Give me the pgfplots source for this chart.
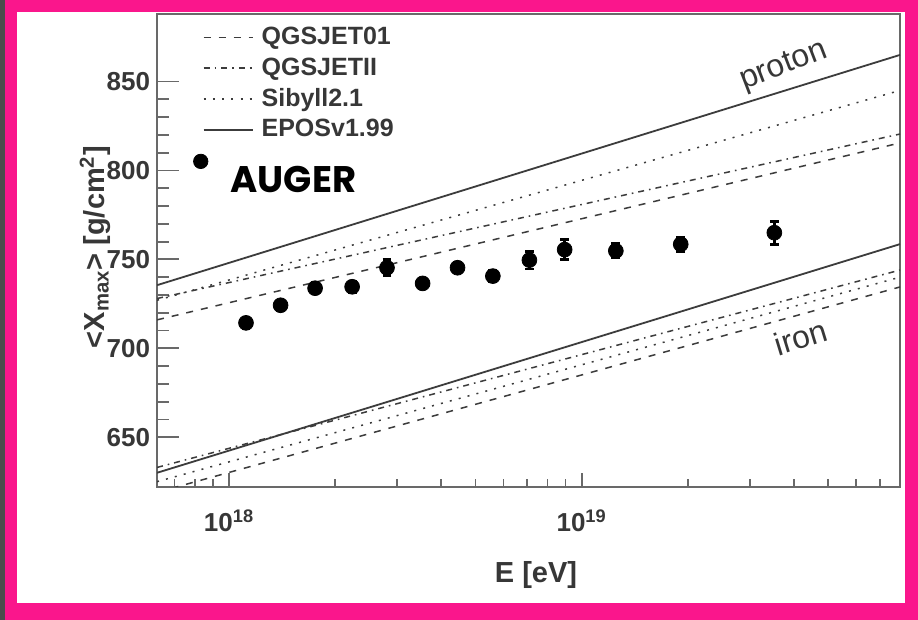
\documentclass[border=0pt]{standalone}
\usepackage{fontspec}
\setmainfont{Liberation Sans}
\newfontfamily\comicfont{Poppins}
\usepackage{pgfplots}
\pgfplotsset{compat=1.18}

\definecolor{framepink}{RGB}{250,22,140}
\definecolor{ink}{RGB}{55,55,55}
\definecolor{axisgray}{RGB}{105,105,105}
\definecolor{curve}{RGB}{60,60,60}

\begin{document}
\begin{tikzpicture}
% slide frame around the figure
\fill[framepink] (-78.5pt,-66.5pt) rectangle (380.5pt,243.5pt);
\fill[black!70] (-78.5pt,-66.5pt) rectangle (-76pt,243.5pt);
\fill[white] (-70pt,-58pt) rectangle (374pt,237.5pt);

\begin{axis}[
  at={(0pt,0pt)}, anchor=south west,
  scale only axis, width=371.5pt, height=236.5pt,
  xmode=log, xmin=6.25e17, xmax=8e19,
  ymin=622, ymax=888,
  axis line style={axisgray, line width=1.1pt},
  xtick pos=left, ytick pos=left, tick align=inside,
  xtick={1e18,1e19},
  xticklabels={10\textsuperscript{18},10\textsuperscript{19}},
  minor xtick={7e17,8e17,9e17,2e18,3e18,4e18,5e18,6e18,7e18,8e18,9e18,2e19,3e19,4e19,5e19,6e19,7e19},
  ytick={650,700,750,800,850}, minor y tick num=4,
  major tick length=11pt, minor tick length=6pt,
  xtick style={/pgfplots/major tick length=7pt, /pgfplots/minor tick length=4pt},
  tick style={axisgray, line width=0.9pt},
  /pgf/number format/assume math mode=true,
  ticklabel style={font=\bfseries\fontsize{13}{13}\selectfont, text=ink},
  xticklabel style={yshift=-8pt},
  xlabel={E [eV]},
  ylabel={\textless X\textsubscript{max}\textgreater{} [g/cm\textsuperscript{2}]},
  label style={font=\bfseries\fontsize{14.5}{14.5}\selectfont, text=ink},
  xlabel style={at={(axis description cs:0.51,-0.186)}, anchor=center},
  ylabel style={at={(axis description cs:-0.0835,0.507)}, anchor=center},
  legend style={at={(0.048,0.981)}, anchor=north west, draw=none, fill=none,
    inner sep=0pt, row sep=1pt, font=\bfseries\fontsize{12.5}{12.5}\selectfont,
    text=ink, nodes={inner sep=2pt},
    /tikz/every odd column/.append style={column sep=2pt}},
  legend cell align=left,
  legend image code/.code={\draw[#1] (0pt,0pt) -- (24.5pt,0pt);},
]

% proton primaries
\addplot[curve, line width=0.75pt, dash pattern=on 3.5pt off 4pt]
  coordinates {(6.25e17,716) (8e19,815.5)};
\addlegendentry{QGSJET01}
\addplot[curve, line width=0.75pt, dash pattern=on 3pt off 2.5pt on 0.8pt off 2.5pt]
  coordinates {(6.25e17,728) (8e19,820.5)};
\addlegendentry{QGSJETII}
\addplot[curve, line width=0.75pt, dash pattern=on 1pt off 3.6pt]
  coordinates {(6.25e17,727) (8e19,845)};
\addlegendentry{Sibyll2.1}
\addplot[curve, line width=0.9pt]
  coordinates {(6.25e17,735.5) (8e19,865)};
\addlegendentry{EPOSv1.99}

% iron primaries
\addplot[curve, line width=0.75pt, dash pattern=on 3.5pt off 4pt, forget plot]
  coordinates {(6.25e17,619) (8e19,734.5)};
\addplot[curve, line width=0.75pt, dash pattern=on 3pt off 2.5pt on 0.8pt off 2.5pt, forget plot]
  coordinates {(6.25e17,633) (8e19,744)};
\addplot[curve, line width=0.75pt, dash pattern=on 1pt off 3.6pt, forget plot]
  coordinates {(6.25e17,625) (8e19,740)};
\addplot[curve, line width=0.9pt, forget plot]
  coordinates {(6.25e17,630) (8e19,758.6)};

% measured <Xmax>
\addplot[only marks, mark=*, mark size=3.7pt, black,
  error bars/.cd, y dir=both, y explicit,
  error bar style={line width=1.6pt, black},
  error mark options={rotate=90, mark size=2.2pt, line width=1.4pt, black}]
  [legend image code/.code={\fill[black] (-1.5pt,3pt) circle (3.6pt);}]
  coordinates {
    (1.117e18,714.3) +- (0,3)
    (1.40e18,724.2)  +- (0,3)
    (1.754e18,733.8) +- (0,3)
    (2.234e18,734.6) +- (0,3)
    (2.805e18,745.3) +- (0,4.5)
    (3.54e18,736.5)  +- (0,3)
    (4.446e18,745.3) +- (0,3)
    (5.6e18,740.6)   +- (0,3)
    (7.11e18,749.6)  +- (0,5)
    (8.95e18,755.5)  +- (0,5.5)
    (1.25e19,754.8)  +- (0,4)
    (1.91e19,758.5)  +- (0,4)
    (3.52e19,765)    +- (0,6.5)
  };
\addlegendentry{\raisebox{-5.5pt}[16pt][0pt]{\hspace*{-15.5pt}\color{black}\comicfont\bfseries\fontsize{18.5}{18.5}\selectfont AUGER}}

\node[rotate=21, font=\fontsize{16}{16}\selectfont, text=ink] at (axis cs:3.75e19,858.4) {proton};
\node[rotate=17, font=\fontsize{16}{16}\selectfont, text=ink] at (axis cs:4.19e19,706.2) {iron};
\end{axis}
\end{tikzpicture}
\end{document}
